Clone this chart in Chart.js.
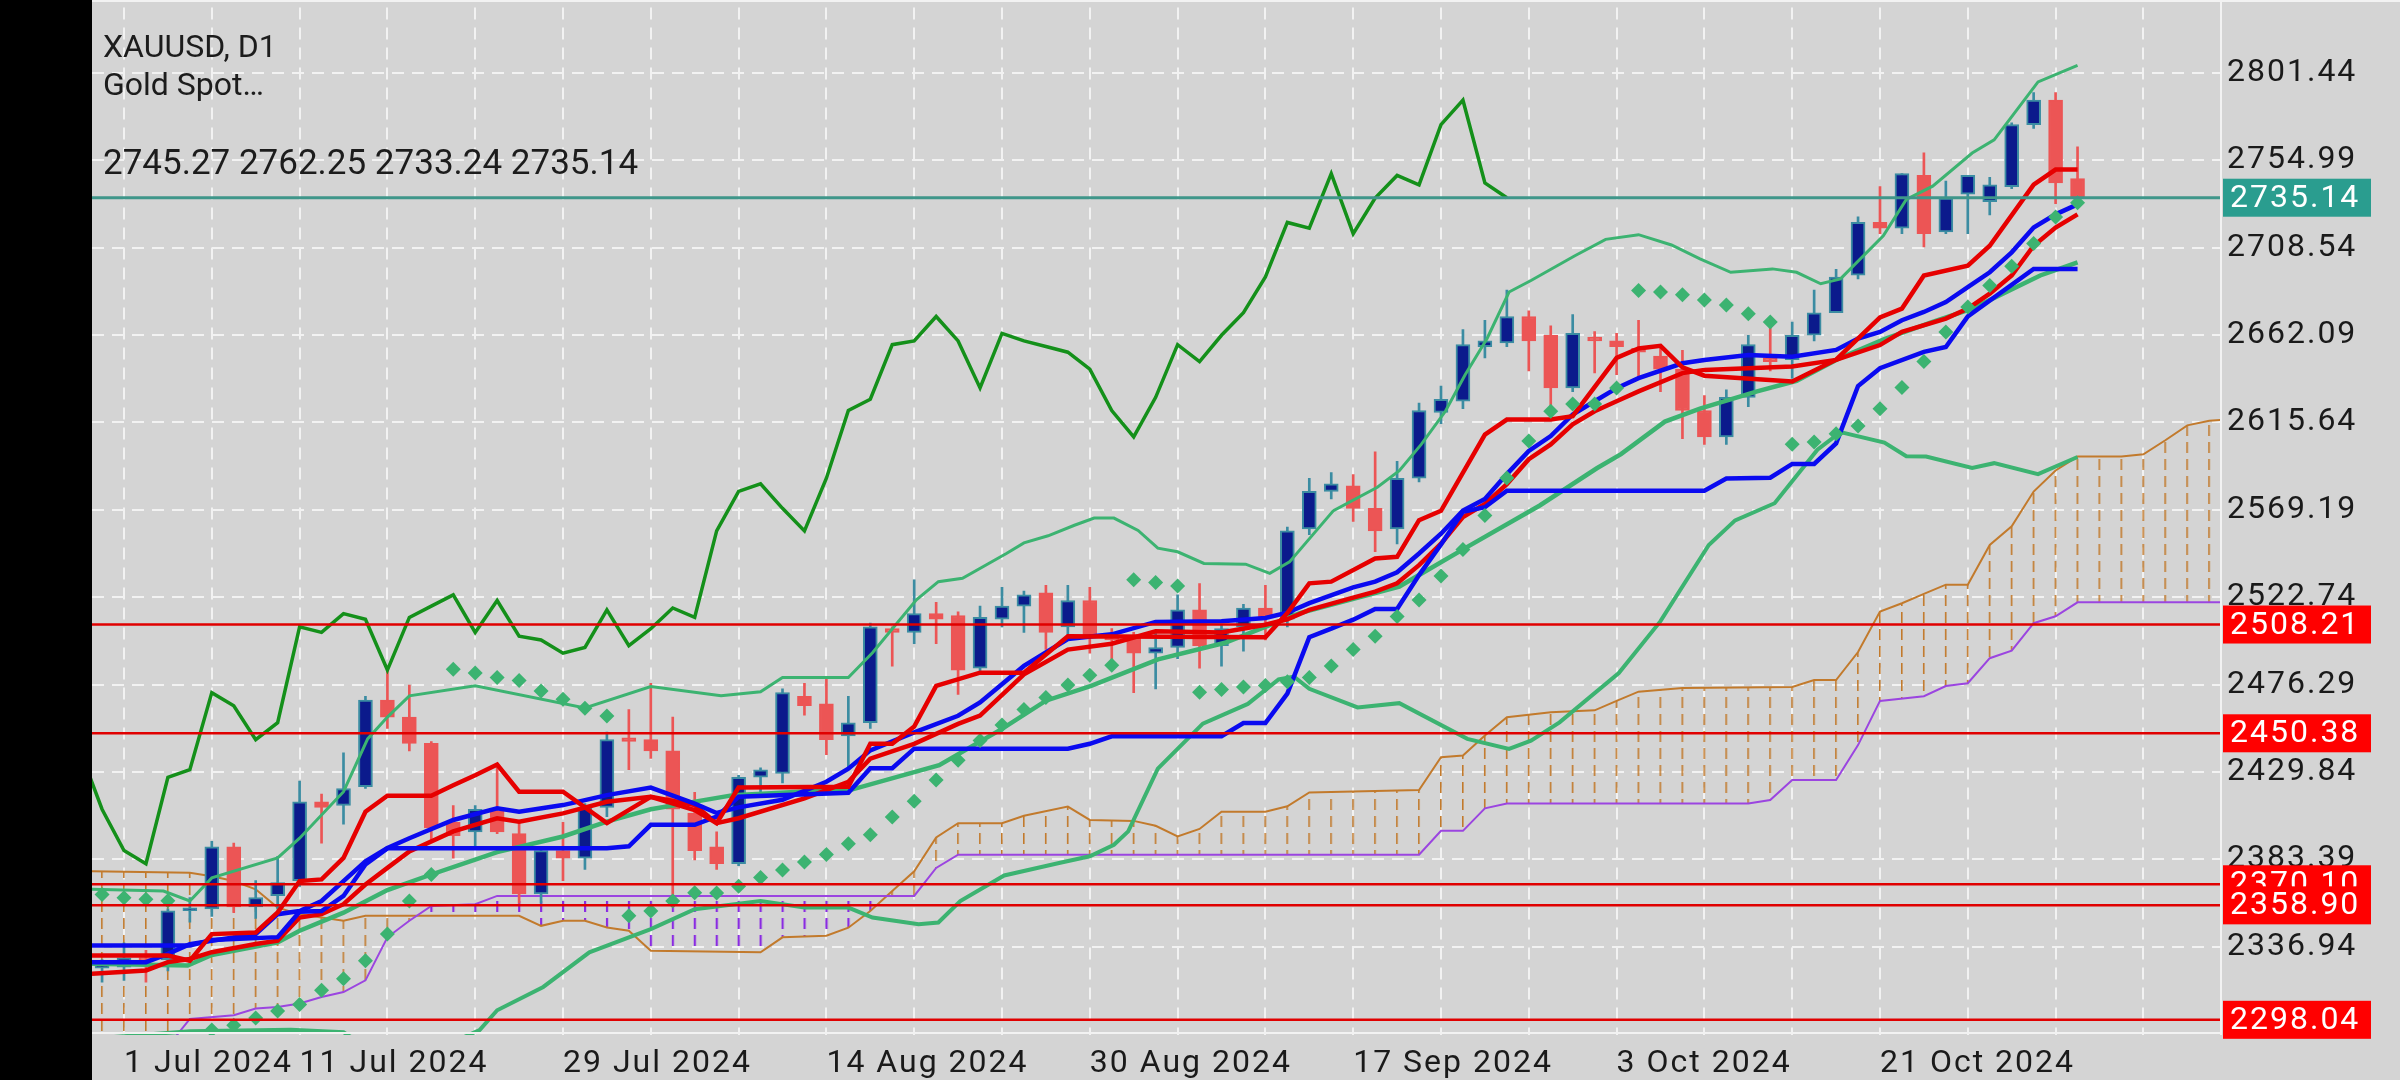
<!DOCTYPE html>
<html>
<head>
<meta charset="utf-8">
<script src="https://cdn.jsdelivr.net/npm/chart.js@4.4.1/dist/chart.umd.min.js"></script>
<style>
  html, body { margin: 0; padding: 0; background: #000; }
  #wrap { width: 2400px; height: 1080px; }
</style>
</head>
<body>
<div id="wrap"><canvas id="chart" width="2400" height="1080"></canvas></div>
<script>
// Daily bars, bar 0 = 1 Jul 2024. First entry is bar -1 (28 Jun)
const firstBar = -1;
const opens = [
  2325.5, 2326, 2331, 2330, 2356, 2357, 2390, 2358, 2364, 2372,
  2414, 2412, 2422, 2468, 2459, 2445, 2403, 2398, 2409, 2397,
  2365, 2388, 2384, 2411, 2448, 2447, 2441, 2408, 2390, 2381,
  2427, 2429, 2470, 2466, 2449, 2456, 2506, 2504, 2514, 2513,
  2485, 2511, 2518, 2525, 2507, 2521, 2502, 2501, 2493, 2496,
  2516, 2497, 2507, 2517, 2511, 2559, 2579, 2582, 2570, 2559,
  2586, 2621, 2627, 2656, 2658, 2672, 2662, 2634, 2661, 2659,
  2655, 2651, 2644, 2622, 2608, 2629, 2650, 2649, 2662, 2674,
  2694, 2722, 2719, 2747, 2717, 2737, 2733, 2741, 2774, 2787,
  2745.27];
const highs = [
  2330, 2339, 2335, 2357, 2363, 2393, 2392, 2372, 2385, 2425,
  2418, 2440, 2470, 2484, 2476, 2446, 2412, 2412, 2434, 2403,
  2390, 2403, 2413, 2451, 2463, 2477, 2459, 2419, 2398, 2428,
  2432, 2474, 2477, 2480, 2470, 2509, 2507, 2532, 2520, 2515,
  2518, 2528, 2526, 2529, 2529, 2528, 2506, 2504, 2504, 2524,
  2530, 2508, 2519, 2529, 2560, 2586, 2589, 2588, 2600, 2595,
  2626, 2635, 2665, 2670, 2686, 2675, 2667, 2673, 2664, 2663,
  2670, 2657, 2654, 2630, 2633, 2662, 2671, 2669, 2686, 2697,
  2725, 2741, 2748, 2759, 2744, 2747, 2746, 2775, 2791, 2791,
  2762.25];
const lows = [
  2318, 2319, 2318, 2324, 2350, 2353, 2355, 2352, 2357, 2369,
  2392, 2402, 2421, 2453, 2441, 2393, 2384, 2390, 2397, 2360,
  2360, 2372, 2378, 2406, 2431, 2437, 2360, 2383, 2378, 2380,
  2419, 2424, 2460, 2439, 2432, 2453, 2486, 2498, 2498, 2471,
  2482, 2507, 2504, 2495, 2500, 2493, 2489, 2472, 2474, 2490,
  2485, 2486, 2494, 2500, 2507, 2556, 2575, 2563, 2547, 2551,
  2584, 2615, 2623, 2650, 2656, 2643, 2624, 2632, 2642, 2641,
  2640, 2632, 2607, 2604, 2604, 2624, 2643, 2639, 2659, 2674,
  2692, 2716, 2716, 2709, 2716, 2716, 2726, 2740, 2772, 2732,
  2733.24];
const closes = [
  2327, 2331, 2329.5, 2356, 2357, 2390, 2358, 2363, 2371, 2414,
  2411, 2421, 2468, 2459, 2445, 2400, 2396, 2410, 2398, 2365,
  2388, 2384, 2411, 2447, 2446, 2441, 2410, 2388, 2381, 2427,
  2431, 2472, 2465, 2447, 2456, 2507, 2504, 2514, 2511, 2484,
  2512, 2518, 2524, 2504, 2521, 2502, 2500, 2493, 2496, 2516,
  2497, 2506, 2517, 2512, 2558, 2579, 2583, 2570, 2558, 2586,
  2622, 2628, 2657, 2659, 2672, 2659, 2634, 2663, 2659, 2656,
  2653, 2644, 2622, 2608, 2629, 2657, 2648, 2662, 2674, 2693,
  2722, 2719, 2748, 2716, 2735, 2747, 2742, 2774, 2787, 2743,
  2735.14];

// Parabolic SAR, one per bar from bar -1 (null = no dot)
const sarValues = [
  2364.7, 2363, 2362.1, 2361.3, null, 2292.6, 2295.2, 2299, 2302.7, 2306.2,
  2313.7, 2319.9, 2329.5, 2343.6, 2361.2, 2375.3, 2484.4, 2482.5, 2480, 2478.5,
  2472.9, 2468.5, 2463.7, 2459.6, 2353.3, 2355.9, 2361.2, 2365.6, 2365.4, 2369.1,
  2373.7, 2377.7, 2382, 2385.9, 2391.7, 2396.4, 2405.9, 2414.2, 2425.6, 2436,
  2446.6, 2454.8, 2463, 2469.4, 2476, 2481.2, 2486.5, 2532, 2530.5, 2528.7,
  2472.2, 2473.7, 2475, 2475.8, 2477.8, 2480, 2486.1, 2494.9, 2502, 2512.5,
  2521.3, 2534, 2548.1, 2566.2, 2586.1, 2605.8, 2621.6, 2625.5, 2625.5, 2634,
  2685.8, 2685, 2683.6, 2680.8, 2678.1, 2673.4, 2669.1, 2604, 2605.2, 2609.6,
  2613.7, 2622.9, 2634.2, 2648, 2663.8, 2677, 2688.5, 2698.7, 2710.8, 2724.9,
  2732.5];

// Indicator lines as [bar, price] vertices
const bbUpper = [[-1.46,2367.4],[1.8,2366.5],[3,2361.2],[4,2373.5],[7,2384.1],[8,2394.6],[10,2419.3],[11.1,2447.4],[12,2459],[13,2470.3],[16,2475.6],[21,2463.8],[24,2475.2],[27.2,2470.3],[29,2472.5],[30,2480],[33,2480],[34.1,2493.2],[36.1,2521.3],[37.1,2531],[38.2,2532.8],[40.2,2546],[41,2551.6],[42.1,2555.4],[43.3,2561],[44.2,2564.8],[45.1,2564.8],[46.2,2558.2],[47.1,2548.8],[48,2546.9],[49.2,2540.7],[51.1,2540.3],[52.2,2535.4],[53.1,2541.5],[55.1,2568.8],[57.1,2581.2],[58.1,2590],[59.1,2604],[60.2,2621.6],[61.1,2641],[62.1,2660.3],[63.1,2685],[64.1,2691.1],[66.1,2704.3],[67.5,2713],[69,2715.5],[70.5,2710],[71.8,2702.6],[73.2,2695.5],[75.1,2697.3],[76.2,2695.5],[77.3,2689.4],[78.2,2692],[80.15,2714.9],[81.2,2734.2],[82.4,2741.3],[84.2,2758.9],[85.2,2765.9],[87.2,2796.7],[89,2805.5]];
const bbMiddle = [[-1.46,2327.8],[2.9,2326.9],[4,2332.5],[7,2339.2],[8,2345.4],[10,2355],[12,2367],[14,2375.3],[16,2383.2],[17,2387.2],[20,2395.5],[22,2403.4],[24,2410],[27.75,2417.5],[30.8,2419.3],[33.07,2420.2],[37.14,2433.4],[40,2452.7],[42,2467.7],[44.06,2475.6],[47.11,2489.7],[50.16,2498.5],[53.57,2514.3],[58.1,2528.4],[61.2,2549.5],[64.5,2571.5],[67.1,2591.3],[68.2,2598.8],[70.2,2616.1],[71.8,2623],[74.4,2632.2],[76.2,2637.8],[78.2,2650],[80.2,2660],[82.4,2669.1],[84.2,2676.2],[87.3,2693.8],[89,2700.8]];
const bbLower = [[-1.46,2288],[3,2292],[7.6,2292.8],[10,2291.5],[12,2276],[14,2281],[16.2,2292.6],[17,2303.1],[19.1,2315.5],[21.2,2333.9],[24,2346.3],[26,2356.8],[29,2361.2],[31,2357.7],[33,2357.7],[34.1,2352.4],[36.2,2348.9],[37.1,2349.8],[38.1,2361.2],[40.1,2374.8],[42.6,2381.4],[44,2385],[45.1,2391.1],[45.75,2398.2],[47.1,2431.6],[49.15,2455.5],[51.2,2466],[52.6,2479],[53.3,2480.5],[54,2474],[56.2,2464.1],[58.1,2466.4],[61.2,2447.4],[63.1,2442.1],[64.1,2446.5],[65.4,2456.2],[68.1,2482.4],[70,2510],[72.2,2550.5],[73.4,2563.6],[75.2,2572.7],[77.15,2601.2],[78.2,2610.5],[80.2,2604.9],[81.2,2597.7],[82.1,2597.5],[84.2,2591.5],[85.2,2594],[87.2,2588.2],[89,2597.3]];
const tenkan = [[-1.46,2332.2],[2,2332.2],[3,2329.5],[4,2343.6],[6,2344.5],[7,2355.1],[8,2371.8],[9,2372.7],[10,2384.1],[11,2408.7],[12,2417.2],[14,2417.2],[15,2422.8],[16,2428.1],[17,2433.8],[18,2419.3],[20,2419.3],[22,2402.6],[24,2416.6],[26,2409.6],[27,2402.6],[28,2421.5],[33,2421.9],[34,2444.8],[35,2444.8],[36,2454],[37,2475.6],[39,2482.6],[41,2482.6],[43,2502],[52,2501.5],[53,2514.3],[54,2530.1],[55,2531],[57,2543.3],[58,2544.2],[59,2563.7],[60,2568.7],[62,2609.2],[63,2617.2],[65,2617.2],[66,2619],[68,2650],[69,2655],[70,2656.4],[71,2645],[72,2640.5],[76,2637.4],[78,2649],[80,2671.5],[81,2676.2],[82,2693.8],[84,2699],[85,2709.6],[87,2742.1],[88,2750.1],[89,2750.1]];
const kijun = [[-1.46,2337.5],[3,2337.5],[4,2340.5],[7,2342],[8,2355.5],[9,2355.9],[10,2363.9],[11,2380.6],[12,2389.2],[22,2389.2],[23,2390.3],[24,2401.7],[26,2401.7],[27,2406.1],[28,2416.6],[33,2418.8],[34,2431.8],[35,2431.8],[36,2442.2],[43,2442.2],[44,2444.8],[45,2448.8],[50,2448.8],[51,2455.8],[52,2455.8],[53,2471.5],[54,2501.5],[55,2506],[56,2510.8],[57,2516.5],[58,2516.5],[59,2534.5],[60,2550.8],[61,2568.2],[62,2570.6],[63,2579.3],[72,2579.4],[73,2585.8],[75,2586.3],[76,2593.6],[77,2593.6],[78,2604.5],[79,2635],[80,2644.5],[82,2653.2],[83,2655.8],[84,2672],[87,2697.3],[89,2697.3]];
const maBlue = [[-1.46,2328.7],[1,2328.7],[2,2333.1],[3,2338.3],[4,2340.1],[6,2343.6],[7,2354.2],[8,2355.9],[9,2361.2],[10,2371.8],[11,2382.3],[12,2389.4],[13,2394.6],[15,2404.3],[17,2410.5],[18,2408.7],[20,2412.2],[22,2417.5],[24,2421.5],[26,2413],[27,2408],[28,2411],[30,2415],[32,2424.6],[33,2431.6],[34,2441.3],[36,2450.9],[38,2459.7],[39,2466.8],[41,2486.2],[43,2500.5],[45,2503],[47,2509.6],[50,2509.9],[52,2511.7],[53,2514.5],[54,2519.6],[56,2528],[57,2531],[58,2536],[59,2546],[60,2556.5],[61,2568.8],[62,2575],[63,2588.2],[64,2600.5],[65,2608.4],[66,2619.9],[67,2626.9],[68,2633.9],[69,2639.2],[71,2647.1],[72,2648.9],[74,2651.5],[76,2650.6],[78,2654.2],[79,2660.3],[80,2663.8],[81,2670],[82,2674.4],[83,2679.7],[84,2687.6],[85,2695.5],[86,2706.1],[87,2719.3],[88,2726.3],[89,2731.6]];
const maRed = [[-1.46,2322.5],[1,2324.3],[2,2328.7],[3,2330.4],[4,2334],[6,2338.3],[7,2340.1],[8,2352.4],[9,2354.2],[10,2359.5],[11,2370],[12,2378.8],[13,2387.6],[15,2398.2],[17,2405.2],[18,2403.4],[20,2407.8],[22,2414],[24,2416.6],[26,2412.2],[27,2402.6],[28,2405.2],[31,2415.8],[33,2424.6],[34,2436.9],[36,2444.8],[38,2455.4],[39,2459.8],[41,2481.7],[43,2494.9],[45,2498],[47,2504.6],[50,2504],[52,2508.1],[53,2511],[54,2516],[56,2522.5],[57,2525.7],[58,2530.1],[59,2539.8],[60,2551.2],[61,2565.3],[62,2572.3],[63,2582.9],[64,2596.1],[65,2604],[66,2614.6],[67,2621.6],[68,2626.9],[69,2632.2],[71,2641.9],[72,2643.6],[74,2644.5],[76,2645.4],[78,2648.9],[80,2656.8],[81,2663.8],[83,2670.9],[84,2676.2],[85,2684.1],[86,2693.8],[87,2709.6],[88,2719.3],[89,2726.3]];
const senkouA = [[-1.46,2377],[3,2376.2],[4,2374.4],[5,2371.8],[6,2367.4],[7,2357.7],[8,2354.2],[9,2352.4],[10,2350.7],[11,2353.3],[18,2353.3],[19,2348],[20,2350.7],[21,2350.7],[22,2347.1],[23,2345.4],[24,2334.8],[29,2333.9],[30,2341.9],[32,2342.7],[33,2347],[34,2355.9],[35,2366.5],[36,2377],[37,2395],[38,2402.6],[40,2402.6],[41,2406.5],[43,2411.4],[44,2404.3],[46,2403.8],[47,2401.2],[48,2395.5],[49,2399.5],[50,2408.7],[52,2408.7],[53,2411.6],[54,2418.9],[59,2420.2],[60,2437.7],[61,2438.6],[62,2449.2],[63,2458.9],[65,2461.6],[67,2462.6],[68,2467.6],[69,2472.5],[71,2474.5],[76,2475],[77,2478.7],[78,2478.7],[79,2493.6],[80,2515.1],[81,2519.5],[82,2524.5],[83,2529.4],[84,2529.4],[85,2550.5],[86,2560.4],[87,2578.9],[88,2590.1],[89,2597.5],[91,2597.5],[92,2598.7],[93,2606.2],[94,2614.1],[95,2616.6],[95.5,2617]];
const senkouB = [[-1.46,2282],[2,2284],[3,2298.5],[5,2300.5],[6,2304],[7,2304.9],[8,2306.7],[9,2310.2],[10,2312.8],[11,2319],[12,2341.9],[13,2350.7],[14,2358.6],[16,2359.5],[17,2363.9],[36,2363.9],[37,2378.8],[38,2385.8],[59,2385.8],[60,2398.5],[61,2398.5],[62,2410.5],[63,2413.1],[74,2413.1],[75,2414.9],[76,2425.5],[78,2425.5],[79,2444.1],[80,2467.6],[82,2470.1],[83,2475.5],[84,2477],[85,2490.3],[86,2494.3],[87,2508.9],[88,2512.6],[89,2520],[95.5,2520]];
const chikouShift = 26;
const chikouFrom = 24;

// Axis labels and levels
const dateTicks = [0, 8, 20, 32, 44, 56, 68, 80];
const dateLabels = ['1 Jul 2024', '11 Jul 2024', '29 Jul 2024', '14 Aug 2024', '30 Aug 2024', '17 Sep 2024', '3 Oct 2024', '21 Oct 2024'];
const priceTicks = [2801.44, 2754.99, 2708.54, 2662.09, 2615.64, 2569.19, 2522.74, 2476.29, 2429.84, 2383.39, 2336.94];
const levelLines = [2508.21, 2450.38, 2370.10, 2358.90, 2298.04];
const lastPrice = 2735.14;

// View window
const xMin = -1.458, xMax = 95.49;
const yMin = 2289.96, yMax = 2836.28;

// ---------------------------------------------------------------
const pts = arr => arr.map(([x, y]) => ({x, y}));
const barX = k => k + firstBar;

const isUp = opens.map((o, k) => closes[k] >= o);
const bodyData = opens.map((o, k) => ({x: barX(k), y: [o, closes[k]]}));
const wickData = opens.map((o, k) => ({x: barX(k), y: [lows[k], highs[k]]}));
const chikouData = [];
for (let i = chikouFrom; i <= barX(closes.length - 1); i++) {
  chikouData.push({x: i - chikouShift, y: closes[i - firstBar]});
}
const sarData = sarValues.map((v, k) => ({x: barX(k), y: v}));

const BULL = '#0b1a8c', BULL_EDGE = '#3b8ca2', BEAR = '#ec5555';
const GREEN = '#3cb371', RED = '#e60000', BLUE = '#0a0af0';

// cloud hatching
function makeHatch(color, w) {
  const c = document.createElement('canvas');
  c.width = 22; c.height = 17;
  const g = c.getContext('2d');
  g.strokeStyle = color;
  g.lineWidth = w;
  g.beginPath();
  g.moveTo(w / 2, 0);
  g.lineTo(w / 2, 11);
  g.stroke();
  return g.createPattern(c, 'repeat');
}
const hatchUp = makeHatch('#c27a2c', 1.6);
const hatchDown = makeHatch('#8a2be2', 2.2);

const backdrop = {
  id: 'backdrop',
  beforeDraw(chart) {
    const {ctx, chartArea: a} = chart;
    ctx.fillStyle = '#d4d4d4';
    ctx.fillRect(a.left, 0, chart.width - a.left, chart.height);
    // axis text in the reference is spaced out a little
    ctx.letterSpacing = '2px';
  },
  beforeDatasetsDraw(chart) {
    chart.ctx.letterSpacing = '0px';
    const x = chart.scales.x;
    const x0 = x.getPixelForValue(0);
    const step = x.getPixelForValue(1) - x0;
    const m = new DOMMatrix([step / 22, 0, 0, 1, x0 - 1, 0]);
    hatchUp.setTransform(m);
    hatchDown.setTransform(m);
  }
};

const overlay = {
  id: 'overlay',
  afterDraw(chart) {
    const {ctx, chartArea: a} = chart;
    const y = chart.scales.y;
    ctx.save();
    // frame
    ctx.strokeStyle = '#f2f2f2';
    ctx.lineWidth = 2;
    ctx.beginPath();
    ctx.moveTo(a.left, 1); ctx.lineTo(chart.width, 1);
    ctx.moveTo(a.right + 1, 0); ctx.lineTo(a.right + 1, a.bottom);
    ctx.moveTo(a.left, a.bottom - 2); ctx.lineTo(a.right, a.bottom - 2);
    ctx.stroke();

    // price tags on the right
    ctx.font = '32px Roboto';
    ctx.letterSpacing = '2px';
    ctx.textAlign = 'left';
    ctx.textBaseline = 'middle';
    const tag = (v, color) => {
      const py = y.getPixelForValue(v);
      ctx.fillStyle = color;
      ctx.fillRect(a.right + 3, py - 19, 148, 38);
      ctx.fillStyle = '#ffffff';
      ctx.fillText(v.toFixed(2), a.right + 10, py + 1);
    };
    levelLines.forEach(v => tag(v, '#ff0000'));
    tag(lastPrice, '#2a9d8f');

    // header
    const n = closes.length - 1;
    ctx.letterSpacing = '0px';
    ctx.fillStyle = '#1c1c1c';
    ctx.textBaseline = 'alphabetic';
    ctx.font = '32px Roboto';
    ctx.fillText('XAUUSD, D1', a.left + 11, 57);
    ctx.fillText('Gold Spot\u2026', a.left + 11, 95);
    ctx.font = '35px Roboto';
    ctx.fillText([opens[n], highs[n], lows[n], closes[n]].map(v => v.toFixed(2)).join(' '), a.left + 11, 174);
    ctx.restore();
  }
};

const lineSet = (data, color, width, order) => ({
  type: 'line', data: pts(data), borderColor: color, borderWidth: width,
  pointRadius: 0, fill: false, order
});

const datasets = [
  // Ichimoku cloud
  { type: 'line', data: pts(senkouA), borderColor: '#c27a2c', borderWidth: 2, pointRadius: 0,
    fill: { target: '+1', above: hatchUp, below: hatchDown }, order: 30 },
  { type: 'line', data: pts(senkouB), borderColor: '#9b45e0', borderWidth: 2, pointRadius: 0,
    fill: false, order: 29 },
  // candles
  { type: 'bar', data: wickData, backgroundColor: isUp.map(u => u ? BULL_EDGE : BEAR),
    borderWidth: 0, barThickness: 2, grouped: false, order: 20 },
  { type: 'bar', data: bodyData, backgroundColor: isUp.map(u => u ? BULL : BEAR),
    borderColor: isUp.map(u => u ? BULL_EDGE : BEAR), borderWidth: 2, borderSkipped: false,
    barThickness: 14, minBarLength: 3, grouped: false, order: 19 },
  // chikou
  { type: 'line', data: chikouData, borderColor: '#14901a', borderWidth: 3.5, pointRadius: 0, fill: false, order: 12 },
  // bollinger
  lineSet(bbUpper, GREEN, 3, 11),
  lineSet(bbMiddle, GREEN, 4.5, 11),
  lineSet(bbLower, GREEN, 4, 11),
  // moving averages, tenkan / kijun
  lineSet(maRed, RED, 4.5, 9),
  lineSet(maBlue, BLUE, 4.5, 8),
  lineSet(kijun, BLUE, 4.5, 7),
  lineSet(tenkan, RED, 4.5, 6),
  // parabolic SAR
  { type: 'line', data: sarData, showLine: false, pointStyle: 'rectRot', pointRadius: 7.5,
    pointBackgroundColor: GREEN, pointBorderWidth: 0, borderColor: GREEN, order: 4 },
  // horizontal levels
  ...levelLines.map(v => ({
    type: 'line', data: [{x: xMin, y: v}, {x: xMax, y: v}], borderColor: '#e00000',
    borderWidth: 2.5, pointRadius: 0, fill: false, order: 2
  })),
  { type: 'line', data: [{x: xMin, y: lastPrice}, {x: xMax, y: lastPrice}], borderColor: '#3f968a',
    borderWidth: 3, pointRadius: 0, fill: false, order: 1 }
];

const gridBars = [];
for (let g = 0; g <= 92; g += 4) gridBars.push(g);

Chart.defaults.font.family = 'Roboto';

new Chart(document.getElementById('chart'), {
  type: 'line',
  data: { datasets },
  plugins: [backdrop, overlay],
  options: {
    responsive: false,
    animation: false,
    devicePixelRatio: 1,
    events: [],
    layout: { padding: { left: 92, top: 0, right: 0, bottom: 0 } },
    elements: { line: { tension: 0 } },
    plugins: { legend: { display: false }, tooltip: { enabled: false } },
    scales: {
      x: {
        type: 'linear', position: 'bottom', min: xMin, max: xMax, bounds: 'data', offset: false,
        afterBuildTicks: s => { s.ticks = dateTicks.map(v => ({value: v})); },
        ticks: {
          autoSkip: false, maxRotation: 0, minRotation: 0, align: 'start', padding: 2,
          color: '#1a1a1a', font: { size: 32 },
          callback: v => dateLabels[dateTicks.indexOf(v)]
        },
        grid: { display: false, offset: false },
        border: { display: false },
        afterFit: s => { s.height = 45; s.paddingLeft = 0; s.paddingRight = 0; }
      },
      xg: {
        type: 'linear', position: 'bottom', min: xMin, max: xMax, bounds: 'data', offset: false,
        afterBuildTicks: s => { s.ticks = gridBars.map(v => ({value: v})); },
        ticks: { display: false },
        grid: { color: '#f2f2f2', lineWidth: 2, drawTicks: false, offset: false },
        border: { display: false, dash: [12, 8] },
        afterFit: s => { s.height = 0; s.paddingLeft = 0; s.paddingRight = 0; }
      },
      y: {
        type: 'linear', position: 'right', min: yMin, max: yMax, bounds: 'data', beginAtZero: false,
        afterBuildTicks: s => { s.ticks = priceTicks.map(v => ({value: v})); },
        ticks: {
          padding: 7, color: '#1a1a1a', font: { size: 32 },
          callback: v => v.toFixed(2)
        },
        grid: { color: '#f2f2f2', lineWidth: 2, drawTicks: false },
        border: { display: false, dash: [12, 8] },
        afterFit: s => { s.width = 180; s.paddingTop = 0; s.paddingBottom = 0; }
      }
    }
  }
});
</script>
</body>
</html>
